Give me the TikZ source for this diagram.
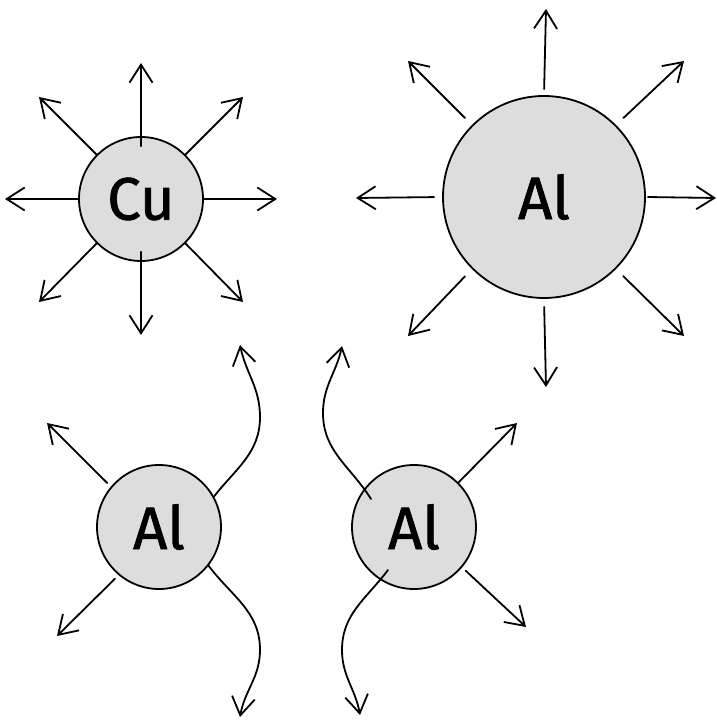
\documentclass[tikz,border=0pt]{standalone}
\usepackage{fontspec}
\setmainfont{Fira Sans}
\newfontfamily\atomfont{Fira Sans}[FakeBold=1.2]
\usetikzlibrary{arrows.meta,calc}
\definecolor{atomgray}{HTML}{DDDDDD}
\begin{document}
\begin{tikzpicture}[x=1pt,y=1pt,
  atom/.style={circle,draw=black,fill=atomgray,line width=1.8pt,inner sep=0pt,
    font=\atomfont\fontsize{60}{60}\selectfont},
  ray/.style={line width=1.8pt,line cap=round,
    -{Straight Barb[length=18pt,width=23pt,line width=1.8pt]}},
]
\useasboundingbox (0,0) rectangle (717,720);

% --- copper atom, top left ---
\node[atom,minimum size=124pt] (cu) at (141,521) {Cu};
\coordinate (cuN)  at (141,657);
\coordinate (cuS)  at (141,385);
\coordinate (cuW)  at (5,521);
\coordinate (cuE)  at (277,521);
\coordinate (cuNW) at (39,623);
\coordinate (cuNE) at (243,623);
\coordinate (cuSW) at (39,418);
\coordinate (cuSE) at (243,418);
\draw[ray] ([yshift=-10pt]cu.north) -- (cuN);
\draw[ray] ([yshift=10pt]cu.south) -- (cuS);
\draw[ray] (cu.west) -- (cuW);
\draw[ray] (cu.east) -- (cuE);
\draw[ray] (cu.135) -- (cuNW);
\draw[ray] (cu.45) -- (cuNE);
\draw[ray] (cu.-135) -- (cuSW);
\draw[ray] (cu.-45) -- (cuSE);

% --- large aluminium atom, top right ---
\node[atom,minimum size=202pt] (alA) at (544,523) {Al};
\coordinate (aN)  at (546,711);
\coordinate (aS)  at (546,333);
\coordinate (aW)  at (356,522);
\coordinate (aE)  at (716,522);
\coordinate (aNW) at (408,659);
\coordinate (aNE) at (684,659);
\coordinate (aSW) at (408,384);
\coordinate (aSE) at (684,384);
\draw[ray,shorten <=6pt] (alA.north) -- (aN);
\draw[ray,shorten <=8pt] (alA.south) -- (aS);
\draw[ray,shorten <=8pt] (alA.west) -- (aW);
\draw[ray,shorten <=2pt] (alA.east) -- (aE);
\draw[ray,shorten <=10pt] (alA.135) -- (aNW);
\draw[ray,shorten <=10pt] (alA.45) -- (aNE);
\draw[ray,shorten <=10pt] (alA.-135) -- (aSW);
\draw[ray,shorten <=10pt] (alA.-45) -- (aSE);

% --- aluminium atom, bottom left ---
\node[atom,minimum size=124pt] (alB) at (159,193) {Al};
\coordinate (bNW) at (47,297);
\coordinate (bSW) at (57,84);
\coordinate (bUp) at (260,303);
\coordinate (bNE) at (240,375);
\coordinate (bDn) at (260,70);
\coordinate (bSE) at (240,3);
\draw[ray,shorten <=5pt] (alB.140) -- (bNW);
\draw[ray,shorten <=5pt] (alB.-130) -- (bSW);
\draw[ray] (alB.29) to[out=52,in=-90] (bUp) to[out=90,in=-78] (bNE);
\draw[ray] (alB.-38) to[out=-53,in=90] (bDn) to[out=-90,in=80] (bSE);

% --- aluminium atom, bottom right ---
\node[atom,minimum size=124pt] (alC) at (414,193) {Al};
\coordinate (cNE) at (517,297);
\coordinate (cSE) at (526,93);
\coordinate (cUp) at (323,307);
\coordinate (cNW) at (342,374);
\coordinate (cDn) at (342,70);
\coordinate (cSW) at (360,5);
\draw[ray] (alC.45) -- (cNE);
\draw[ray,shorten <=5pt] (alC.-40) -- (cSE);
\draw[ray] ($(alC.center)+(-43,28)$) to[out=122,in=-90] (cUp) to[out=90,in=-102] (cNW);
\draw[ray] ($(alC.center)+(-26,-43)$) to[out=-127,in=90] (cDn) to[out=-90,in=100] (cSW);
\end{tikzpicture}
\end{document}
